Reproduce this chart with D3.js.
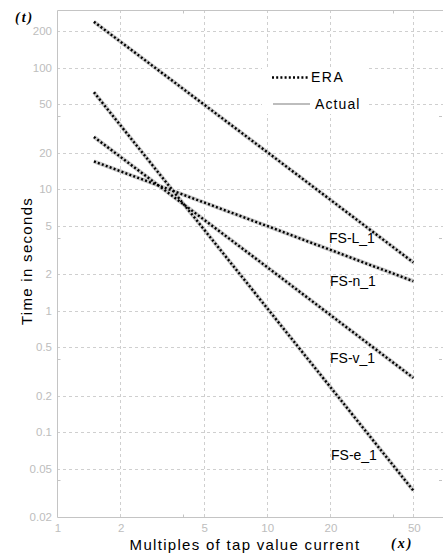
<!DOCTYPE html>
<html>
<head>
<meta charset="utf-8">
<script src="https://d3js.org/d3.v7.min.js"></script>
<style>
  body { margin: 0; background: #fff; }
  svg { display: block; font-family: "Liberation Sans", Arial, sans-serif; }
</style>
</head>
<body>
<div id="chart"></div>
<script>
// curves : values at x = 1.5, 10, 50
var xPoints = [1.5, 10, 50];
var fsL = [240, 20.4, 2.5];
var fsN = [17, 5, 1.75];
var fsV = [27, 2.3, 0.28];
var fsE = [63, 1.06, 0.033];
var curveNames = ["FS-L_1", "FS-n_1", "FS-v_1", "FS-e_1"];

// axis ticks
var xTicks = [1, 2, 5, 10, 20, 50];
var yTicks = [0.02, 0.05, 0.1, 0.2, 0.5, 1, 2, 5, 10, 20, 50, 100, 200];
var xMinor = [4, 40];
var yMinor = [0.04, 0.4, 4, 40];

var width = 443, height = 558;
var margin = {top: 10, left: 57, bottom: 41};

var svg = d3.select("#chart").append("svg")
  .attr("width", width)
  .attr("height", height);

var x = d3.scaleLog().domain([1, 70]).range([margin.left, 444]);
var y = d3.scaleLog().domain([0.02, 300]).range([height - margin.bottom, margin.top]);

var gridCol = "#cfcfcf", axisCol = "#c4c4c4", labCol = "#bdbdbd";

// grid
svg.append("g").selectAll("line")
  .data(yTicks.slice(1))
  .enter().append("line")
    .attr("x1", x(1)).attr("x2", x(70))
    .attr("y1", d => Math.round(y(d)) + 0.5).attr("y2", d => Math.round(y(d)) + 0.5)
    .attr("stroke", gridCol).attr("stroke-dasharray", "3,3");

svg.append("g").selectAll("line")
  .data(xTicks.slice(1))
  .enter().append("line")
    .attr("x1", d => Math.round(x(d)) + 0.5).attr("x2", d => Math.round(x(d)) + 0.5)
    .attr("y1", y(300)).attr("y2", y(0.02))
    .attr("stroke", gridCol).attr("stroke-dasharray", "3,3");

// box
var x0 = Math.round(x(1)) + 0.5, y0 = Math.round(y(0.02)) + 0.5, yT = Math.round(y(300)) + 0.5;
svg.append("line").attr("x1", x0).attr("x2", x0).attr("y1", yT).attr("y2", y0).attr("stroke", axisCol);
svg.append("line").attr("x1", x0).attr("x2", width).attr("y1", y0).attr("y2", y0).attr("stroke", axisCol);
svg.append("line").attr("x1", x0).attr("x2", width).attr("y1", yT).attr("y2", yT).attr("stroke", axisCol);

// minor ticks
svg.append("g").selectAll("line").data(yMinor).enter().append("line")
  .attr("x1", x0).attr("x2", x0 + 3)
  .attr("y1", d => Math.round(y(d)) + 0.5).attr("y2", d => Math.round(y(d)) + 0.5)
  .attr("stroke", axisCol);
svg.append("g").selectAll("line").data(yMinor).enter().append("line")
  .attr("x1", 442).attr("x2", 439)
  .attr("y1", d => Math.round(y(d)) + 0.5).attr("y2", d => Math.round(y(d)) + 0.5)
  .attr("stroke", axisCol);
svg.append("g").selectAll("line").data(xMinor).enter().append("line")
  .attr("x1", d => Math.round(x(d)) + 0.5).attr("x2", d => Math.round(x(d)) + 0.5)
  .attr("y1", y0).attr("y2", y0 - 3)
  .attr("stroke", axisCol);
svg.append("g").selectAll("line").data(xMinor).enter().append("line")
  .attr("x1", d => Math.round(x(d)) + 0.5).attr("x2", d => Math.round(x(d)) + 0.5)
  .attr("y1", yT).attr("y2", yT + 3)
  .attr("stroke", axisCol);

// tick labels
svg.append("g").selectAll("text").data(yTicks).enter().append("text")
  .attr("x", 52).attr("y", d => y(d) + 4)
  .attr("text-anchor", "end")
  .attr("font-size", 11.5).attr("fill", labCol)
  .text(d => d);
svg.append("g").selectAll("text").data(xTicks).enter().append("text")
  .attr("x", d => x(d) + 1).attr("y", 532)
  .attr("text-anchor", "middle")
  .attr("font-size", 11.5).attr("fill", labCol)
  .text(d => d);

// axis titles
svg.append("text")
  .attr("transform", "translate(32," + 261 + ") rotate(-90)")
  .attr("text-anchor", "middle")
  .attr("font-size", 15).attr("letter-spacing", 1.3)
  .text("Time in seconds");
svg.append("text")
  .attr("x", 245).attr("y", 550)
  .attr("text-anchor", "middle")
  .attr("font-size", 15).attr("letter-spacing", 1.3)
  .text("Multiples of tap value current");
svg.append("text")
  .attr("x", 15).attr("y", 22)
  .attr("font-family", "Liberation Serif, serif")
  .attr("font-style", "italic").attr("font-weight", "bold")
  .attr("font-size", 14).attr("letter-spacing", 2)
  .text("(t)");
svg.append("text")
  .attr("x", 391).attr("y", 548)
  .attr("font-family", "Liberation Serif, serif")
  .attr("font-style", "italic").attr("font-weight", "bold")
  .attr("font-size", 14).attr("letter-spacing", 2)
  .text("(x)");

// curves
var series = [fsL, fsN, fsV, fsE];
var line = d3.line()
  .x((d, i) => x(xPoints[i]))
  .y(d => y(d));

var g = svg.append("g");
series.forEach(function (s) {
  g.append("path").attr("d", line(s))
    .attr("fill", "none").attr("stroke", "#c9c9c9").attr("stroke-width", 4);
});
series.forEach(function (s) {
  g.append("path").attr("d", line(s))
    .attr("fill", "none").attr("stroke", "#000").attr("stroke-width", 2.4)
    .attr("stroke-dasharray", "2,2.2");
});

// curve labels
var labelPos = [[329, 243], [330, 286], [330, 363], [331, 460]];
svg.append("g").selectAll("text").data(curveNames).enter().append("text")
  .attr("x", (d, i) => labelPos[i][0]).attr("y", (d, i) => labelPos[i][1])
  .attr("font-size", 14)
  .text(d => d);

// legend
svg.append("rect")
  .attr("x", 262).attr("y", 68).attr("width", 106).attr("height", 46)
  .attr("fill", "#fff");
svg.append("line")
  .attr("x1", 272).attr("x2", 309).attr("y1", 77.5).attr("y2", 77.5)
  .attr("stroke", "#000").attr("stroke-width", 2.4).attr("stroke-dasharray", "2,2.2");
svg.append("text").attr("x", 311).attr("y", 82)
  .attr("font-size", 14).attr("letter-spacing", 1.5).text("ERA");
svg.append("line")
  .attr("x1", 273).attr("x2", 310).attr("y1", 104).attr("y2", 104)
  .attr("stroke", "#bdbdbd").attr("stroke-width", 2);
svg.append("text").attr("x", 315).attr("y", 109)
  .attr("font-size", 14).attr("letter-spacing", 1.1).text("Actual");
</script>
</body>
</html>
